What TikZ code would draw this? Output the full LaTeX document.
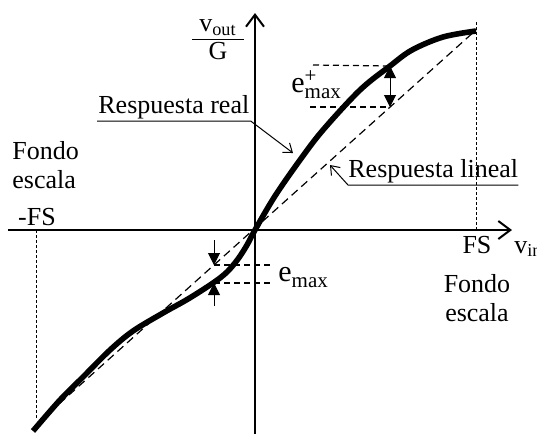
\documentclass[tikz,border=0pt]{standalone}
\usepackage{fontspec}
\setmainfont{Liberation Serif}
\usetikzlibrary{positioning, arrows.meta}
\tikzset{
	every node/.style={font=\fontsize{13}{14.5}\selectfont, inner sep=0pt}, % plain text labels
	axis/.style={line width=1pt, -{Straight Barb[length=6pt,width=9pt]}}, % axes with open heads
	scaleline/.style={line width=0.4pt, dash pattern=on 1.5pt off 1pt}, % full scale marks
	linear/.style={line width=0.6pt, dash pattern=on 4pt off 2.5pt}, % ideal response
	realresp/.style={line width=2.8pt}, % measured response
	guide/.style={line width=0.6pt, dash pattern=on 3pt off 2pt}, % error guides
	errtip/.style={line width=0.5pt, >={Triangle[length=6pt,width=6pt]}}, % error arrows
	leader/.style={line width=0.5pt, -{Straight Barb[length=4pt,width=6pt]}}, % label leaders
	errlabel/.style={font=\fontsize{15}{16}\selectfont, anchor=base west}, % e_max labels
}
\newcommand{\errsub}[1]{\raisebox{-3pt}{\fontsize{10.5}{11}\selectfont #1}}
\begin{document}
\begin{tikzpicture}[x=0.5pt, y=-0.5pt]
	\useasboundingbox (0,0) rectangle (537,436);

	% Axes
	\coordinate (xl) at (8,230);
	\coordinate (xr) at (512,230);
	\coordinate (yb) at (255,434);
	\coordinate (yt) at (255,13);
	\draw[axis] (xl) -- (xr);
	\draw[axis] (yb) -- (yt);

	% Full scale marks
	\coordinate (fsp) at (476,22);
	\coordinate (fsp0) at (476,230);
	\coordinate (fsm0) at (36,230);
	\coordinate (fsm) at (36,418);
	\draw[scaleline] (fsp) -- (fsp0);
	\draw[scaleline] (fsm0) -- (fsm);

	% Responses
	\coordinate (lin0) at (40,421);
	\coordinate (lin1) at (476,30);
	\draw[linear] (lin0) -- (lin1);
	\draw[realresp] plot[smooth, tension=0.55] coordinates {(33,431) (60,400) (83,377) (110,350) (133,331) (163,313) (188,299) (213,283) (227,272) (238,259) (247,245) (255,230) (275,196) (300,160) (323,130) (360,90) (390,66) (412,50) (443,37) (476,31)};

	% Error above
	\coordinate (cup) at (390,66);
	\coordinate (lup) at (390,107);
	\coordinate (eu1) at (313,65);
	\coordinate (eu2) at (310,107);
	\draw[guide] (eu1) -- (cup);
	\draw[guide] (eu2) -- (lup);
	\draw[errtip, <->] (lup) -- (cup);
	\node[errlabel] (eplus) at (291,92) {e\rlap{\raisebox{5pt}{\fontsize{10.5}{11}\selectfont +}}\errsub{max}};

	% Error below
	\coordinate (clo) at (214,283);
	\coordinate (llo) at (214,265);
	\coordinate (el1) at (273,265);
	\coordinate (el2) at (273,283);
	\coordinate (at1) at (214,240);
	\coordinate (at2) at (214,306);
	\draw[guide] (llo) -- (el1);
	\draw[guide] (clo) -- (el2);
	\draw[errtip, ->] (at1) -- (llo);
	\draw[errtip, ->] (at2) -- (clo);
	\node[errlabel] (eminus) at (278,281) {e\errsub{max}};

	% Labels
	\node (gain) at (218,40) {\begin{tabular}{@{\hspace{3.5pt}}c@{\hspace{3.5pt}}}v\textsubscript{out}\\[-1pt]\hline G\end{tabular}};
	\node[anchor=base] (fsm) at (37,225) {-FS};
	\node[anchor=base] (fsr) at (477,253) {FS};
	\node[base right=11pt of fsr] (vin) {v\textsubscript{in}};
	\node[anchor=north west, align=left] (fondol) at (12,141) {Fondo\\escala};
	\node[below=10pt of fsr, align=center] (fondor) {Fondo\\escala};

	\node[anchor=south west, inner xsep=0.5pt, inner ysep=1pt] (lblreal) at (97,121) {Respuesta real};
	\coordinate (tipreal) at (293,153);
	\draw[leader] (lblreal.south west) -- (lblreal.south east) -- (tipreal);
	\node[anchor=south west, inner ysep=1pt] (lbllin) at (348,185) {Respuesta lineal};
	\coordinate (tiplin) at (330,165);
	\draw[leader] (lbllin.south east) -- (lbllin.south west) -- (tiplin);
\end{tikzpicture}
\end{document}
